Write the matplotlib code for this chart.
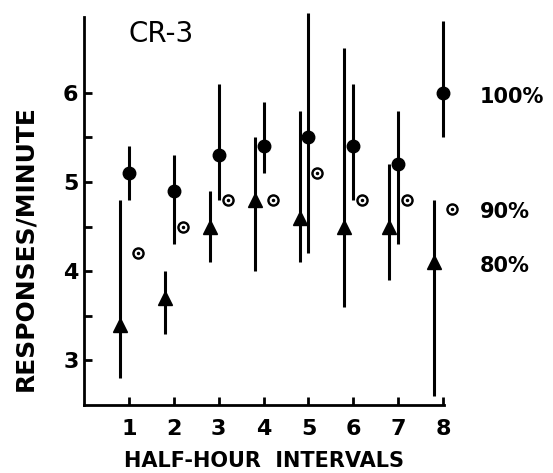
import matplotlib.pyplot as plt
import numpy as np

intervals = np.arange(1, 9)

# 80% (triangles)
p80 = [3.4, 3.7, 4.5, 4.8, 4.6, 4.5, 4.5, 4.1]
p80_hi = [4.8, 4.0, 4.9, 5.5, 5.8, 6.5, 5.2, 4.8]
p80_lo = [2.8, 3.3, 4.1, 4.0, 4.1, 3.6, 3.9, 2.6]

# 100% (filled circles)
p100 = [5.1, 4.9, 5.3, 5.4, 5.5, 5.4, 5.2, 6.0]
p100_hi = [5.4, 5.3, 6.1, 5.9, 6.9, 6.1, 5.8, 6.8]
p100_lo = [4.8, 4.3, 4.8, 5.1, 4.2, 4.8, 4.3, 5.5]

# 90% (small ringed circles, no bars)
p90 = [4.2, 4.5, 4.8, 4.8, 5.1, 4.8, 4.8, 4.7]

fig = plt.figure(figsize=(5.53, 4.73), dpi=100)
ax = fig.add_axes([0.152, 0.144, 0.651, 0.82])

x80 = intervals - 0.2
x90 = intervals + 0.2

ax.vlines(x80, p80_lo, p80_hi, color='black', lw=2.2, clip_on=False)
ax.plot(x80, p80, '^', color='black', ms=10, ls='none', clip_on=False)

ax.vlines(intervals, p100_lo, p100_hi, color='black', lw=2.2, clip_on=False)
ax.plot(intervals, p100, 'o', color='black', ms=9, ls='none', clip_on=False)

ax.plot(x90, p90, 'o', color='black', ms=8, ls='none', clip_on=False)
ax.plot(x90, p90, 'o', color='white', ms=4.5, ls='none', clip_on=False)
ax.plot(x90, p90, 'o', color='black', ms=1.5, ls='none', clip_on=False)

ax.set_xlim(0, 8.02)
ax.set_ylim(2.5, 6.85)

for s in ['top', 'right']:
    ax.spines[s].set_visible(False)
for s in ['left', 'bottom']:
    ax.spines[s].set_linewidth(2)

ax.set_xticks(intervals)
ax.set_yticks([3, 4, 5, 6])
ax.set_yticks([3.5, 4.5, 5.5], minor=True)
ax.tick_params(direction='in', length=6, width=2, labelsize=16)
ax.tick_params(which='minor', direction='in', length=6, width=2)
ax.tick_params(axis='x', pad=10)
ax.tick_params(axis='y', pad=4)
for lab in ax.get_xticklabels() + ax.get_yticklabels():
    lab.set_fontweight('bold')

ax.set_xlabel('HALF-HOUR  INTERVALS', fontsize=15, fontweight='bold', labelpad=9)
ax.set_ylabel('RESPONSES/MINUTE', fontsize=18, fontweight='bold', labelpad=8)
ax.yaxis.set_label_coords(-0.13, 0.405)

ax.text(1.0, 6.66, 'CR-3', fontsize=20, ha='left', va='center')

fig.text(0.868, 0.795, '100%', fontsize=15, fontweight='bold', va='center')
fig.text(0.868, 0.552, '90%', fontsize=15, fontweight='bold', va='center')
fig.text(0.868, 0.438, '80%', fontsize=15, fontweight='bold', va='center')

fig.savefig('out.png', dpi=100)
